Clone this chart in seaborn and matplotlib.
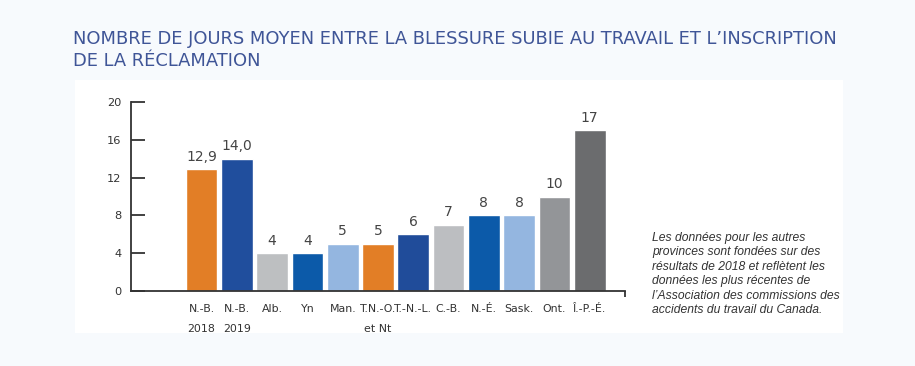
import pandas as pd
import seaborn as sns
import matplotlib.pyplot as plt
from matplotlib.patches import Rectangle

# Data
categories = ['N.-B.\n2018', 'N.-B.\n2019', 'Alb.', 'Yn', 'Man.', 'T.N.-O.\net Nt',
              'T.-N.-L.', 'C.-B.', 'N.-É.', 'Sask.', 'Ont.', 'Î.-P.-É.']
values = [12.9, 14.0, 4, 4, 5, 5, 6, 7, 8, 8, 10, 17]
value_labels = ['12,9', '14,0', '4', '4', '5', '5', '6', '7', '8', '8', '10', '17']
colors = ['#E27E26', '#204E9D', '#BDBFC1', '#0C5AA9', '#94B6E0', '#E27E26',
          '#204C9A', '#BCBEC1', '#0C5AA9', '#94B6E0', '#939598', '#6B6C6E']
yticks = [0, 4, 8, 12, 16, 20]

df = pd.DataFrame({'cat': categories, 'val': values})

sns.set_style('white')
plt.rcParams['font.family'] = ['DejaVu Sans']

fig = plt.figure(figsize=(9.15, 3.66), dpi=100)
fig.patch.set_facecolor('#F7FAFD')
# white panel behind the chart
fig.patches.append(Rectangle((75 / 915, 1 - 333 / 366), (843 - 75) / 915, (333 - 80) / 366,
                             transform=fig.transFigure, facecolor='white', edgecolor='none', zorder=-10))

ax = fig.add_axes([131 / 915, 1 - 291 / 366, (625 - 131) / 915, (291 - 102) / 366])
ax.set_facecolor('none')
ax.set_zorder(5)

sns.barplot(data=df, x='cat', y='val', hue='cat', palette=colors, legend=False,
            width=0.9, saturation=1, ax=ax)

for container, lab in zip(ax.containers, value_labels):
    ax.bar_label(container, labels=[lab], padding=4, fontsize=10, color='#444444')

ax.set_xlim(-2.0, 12.0)
ax.set_ylim(0, 20)
ax.set_yticks(yticks)
ax.set_xlabel('')
ax.set_ylabel('')

for s in ['top', 'right']:
    ax.spines[s].set_visible(False)
for s in ['left', 'bottom']:
    ax.spines[s].set_color('#333333')
    ax.spines[s].set_linewidth(1.3)

ax.tick_params(axis='y', left=True, direction='in', length=10, width=1.3, color='#333333',
               labelsize=8.2, labelcolor='#333333', pad=7)
ax.tick_params(axis='x', which='major', length=0, labelsize=7.9, labelcolor='#333333', pad=9)
ax.set_xticks([12.0], minor=True)
ax.tick_params(axis='x', which='minor', bottom=True, direction='out', length=4, width=1.3,
               color='#333333')
for t in ax.get_xticklabels():
    t.set_linespacing(2.3)
    t.set_verticalalignment('top')

# Title
fig.text(73 / 915, 1 - 30 / 366,
         "NOMBRE DE JOURS MOYEN ENTRE LA BLESSURE SUBIE AU TRAVAIL ET L’INSCRIPTION\nDE LA RÉCLAMATION",
         ha='left', va='top', fontsize=12.9, color='#3F5597', linespacing=1.25)

# Footnote
fig.text(652 / 915, 1 - 232 / 366,
         "Les données pour les autres\nprovinces sont fondées sur des\nrésultats de 2018 et reflètent les\n"
         "données les plus récentes de\nl’Association des commissions des\naccidents du travail du Canada.",
         ha='left', va='top', fontsize=8.7, style='italic', color='#333333',
         family=['Liberation Sans', 'DejaVu Sans'], linespacing=1.27)

fig.savefig('out.png', dpi=100, facecolor=fig.get_facecolor())
